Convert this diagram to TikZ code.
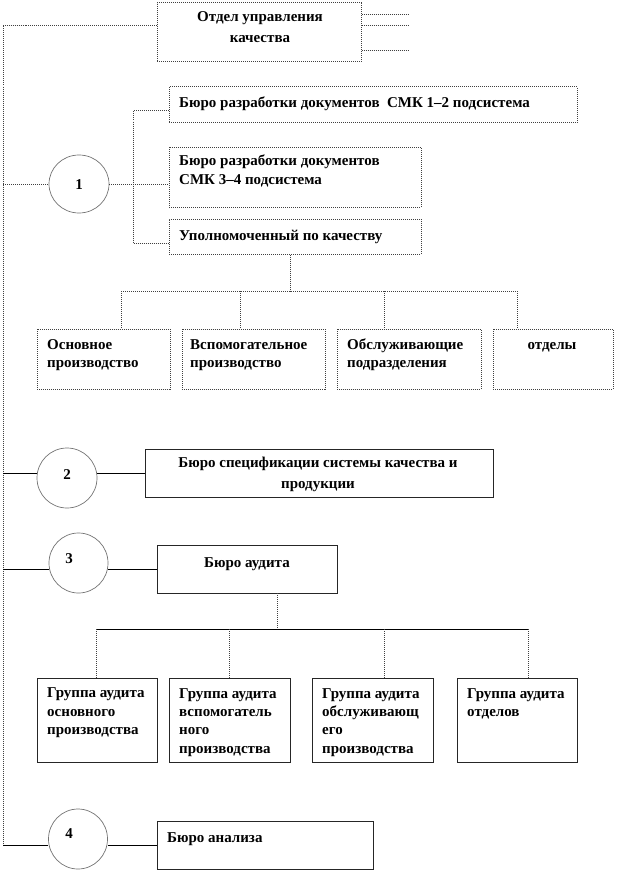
\documentclass[tikz,border=0pt]{standalone}
\usepackage{fontspec}
\setmainfont{Liberation Serif}
\usetikzlibrary{shapes.geometric}
\newcommand{\lbl}{\fontsize{15}{18.3}\selectfont\bfseries}

\begin{document}
\begin{tikzpicture}[x=1pt,y=-1pt,every node/.style={font=\lbl},
  unit/.style={draw=black!75,densely dotted,line width=1pt,inner sep=0pt},
  cell/.style={draw=black!85,line width=0.8pt,inner sep=0pt},
  num/.style={draw=black!55,ellipse,line width=0.7pt,inner sep=0pt},
  link/.style={draw=black!75,densely dotted,line width=1pt},
  firm/.style={draw=black,line width=0.8pt},
  txt/.style={inner sep=0pt,align=left,anchor=base west}]
\useasboundingbox (0,0) rectangle (616,872);
\node[unit,minimum width=204,minimum height=59] (qdept) at (259,32.5) {};
\node[txt,align=center,anchor=base] (qdeptT) at (260,42.5) {Отдел управления\\[2.7pt]качества};
\coordinate (o1) at (408,15);
\coordinate (o2) at (408,26);
\coordinate (o3) at (408,51);
\draw[link] (o1 -| qdept.east) -- (o1);
\draw[link] (o2 -| qdept.east) -- (o2);
\draw[link] (o3 -| qdept.east) -- (o3);
\coordinate (l1) at (3,184);
\coordinate (l2) at (3,473);
\coordinate (l3) at (3,569);
\coordinate (l4) at (3,845);
\draw[link] ([yshift=6.5]qdept.west) -| (l4);
\node[num,minimum width=60,minimum height=58] (c1) at (79,184) {};
\node[txt,anchor=base] (c1T) at (79,189) {1};
\node[unit,minimum width=408,minimum height=36] (bdoc1) at (373,105) {};
\node[txt] (bdoc1T) at (179,107) {Бюро разработки документов\ \ СМК 1–2 подсистема};
\node[unit,minimum width=252,minimum height=60] (bdoc2) at (295,177) {};
\node[txt] (bdoc2T) at (179,184) {Бюро разработки документов\\[0.7pt]СМК 3–4 подсистема};
\node[unit,minimum width=252,minimum height=35] (qrep) at (295,236.5) {};
\node[txt] (qrepT) at (179,240) {Уполномоченный по качеству};
\coordinate (bt) at (133,111);
\coordinate (bb) at (133,243);
\draw[link] (l1) -- (c1.west);
\draw[link] (c1.east) -- (l1 -| bdoc2.west);
\draw[link] (bt -| bdoc1.west) -- (bt) -- (bb) -- (bb -| qrep.west);
\node[unit,minimum width=133,minimum height=60] (mainprod) at (103.5,359) {};
\node[txt] (mainprodT) at (47,367.5) {Основное\\производство};
\node[unit,minimum width=143,minimum height=60] (auxprod) at (253.5,359) {};
\node[txt] (auxprodT) at (190,367.5) {Вспомогательное\\производство};
\node[unit,minimum width=144,minimum height=60] (servdiv) at (409,359) {};
\node[txt] (servdivT) at (347,367.5) {Обслуживающие\\подразделения};
\node[unit,minimum width=120,minimum height=60] (depts) at (553,359) {};
\node[txt,anchor=base] (deptsT) at (552,349.5) {отделы};
\coordinate (d0) at (290,291);
\coordinate (d1) at (121,291);
\coordinate (d2) at (240,291);
\coordinate (d3) at (384,291);
\coordinate (d4) at (517,291);
\draw[link] (d0 |- qrep.south) -- (d0);
\draw[link] (d1) -- (d4);
\draw[link] (d1) -- (d1 |- mainprod.north);
\draw[link] (d2) -- (d2 |- auxprod.north);
\draw[link] (d3) -- (d3 |- servdiv.north);
\draw[link] (d4) -- (d4 |- depts.north);
\node[num,minimum width=60,minimum height=60] (c2) at (67,478) {};
\node[txt,anchor=base] (c2T) at (67,479) {2};
\node[cell,minimum width=348,minimum height=48] (bspec) at (319,473) {};
\node[txt,align=center,anchor=base] (bspecT) at (318,488) {Бюро спецификации системы качества и\\[2.7pt]продукции};
\draw[firm] (l2) -- (l2 -| c2.west);
\draw[firm] (l2 -| c2.east) -- (bspec.west);
\node[num,minimum width=59,minimum height=60] (c3) at (78.5,563) {};
\node[txt,anchor=base] (c3T) at (69,563) {3};
\node[cell,minimum width=180,minimum height=48] (baudit) at (247,569) {};
\node[txt,anchor=base] (bauditT) at (247,567) {Бюро аудита};
\draw[firm] (l3) -- (l3 -| c3.west);
\draw[firm] (l3 -| c3.east) -- (baudit.west);
\node[cell,minimum width=120,minimum height=84] (gmain) at (97,720) {};
\node[txt] (gmainT) at (47,734.5) {Группа аудита\\основного\\производства};
\node[cell,minimum width=121,minimum height=84] (gaux) at (229.5,720) {};
\node[txt] (gauxT) at (179,753) {Группа аудита\\вспомогатель\\ного\\производства};
\node[cell,minimum width=121,minimum height=84] (gserv) at (372.5,720) {};
\node[txt] (gservT) at (322,753) {Группа аудита\\обслуживающ\\его\\производства};
\node[cell,minimum width=120,minimum height=84] (gdept) at (517,720) {};
\node[txt] (gdeptT) at (467,716.3) {Группа аудита\\отделов};
\coordinate (a0) at (277,629);
\coordinate (a1) at (96,629);
\coordinate (a2) at (229,629);
\coordinate (a3) at (384,629);
\coordinate (a4) at (528,629);
\draw[link] (a0 |- baudit.south) -- (a0);
\draw[firm] (a1) -- (a4);
\draw[link] (a1) -- (a1 |- gmain.north);
\draw[link] (a2) -- (a2 |- gaux.north);
\draw[link] (a3) -- (a3 |- gserv.north);
\draw[link] (a4) -- (a4 |- gdept.north);
\node[num,minimum width=59,minimum height=60] (c4) at (78,839) {};
\node[txt,anchor=base] (c4T) at (69,838) {4};
\node[cell,minimum width=216,minimum height=48] (banal) at (265,845) {};
\node[txt] (banalT) at (167,842) {Бюро анализа};
\draw[firm] (l4) -- (l4 -| c4.west);
\draw[firm] (l4 -| c4.east) -- (banal.west);
\end{tikzpicture}
\end{document}
